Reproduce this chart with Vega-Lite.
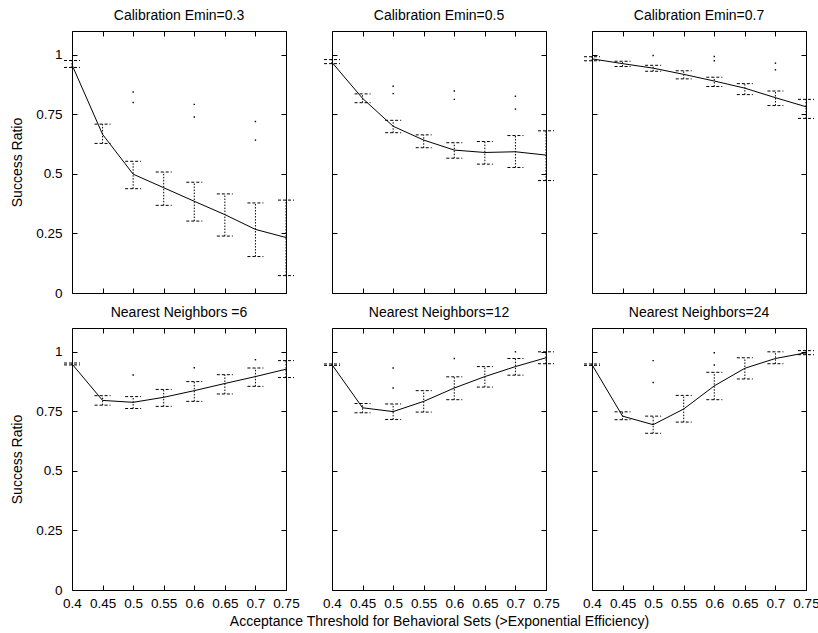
{
  "$schema": "https://vega.github.io/schema/vega-lite/v6.json",
  "background": "white",
  "padding": {"left": 10, "top": 8, "right": 5, "bottom": 5},
  "bounds": "flush",
  "columns": 3,
  "spacing": {"row": 35, "column": 46},
  "datasets": {
    "bars": [
      {"p": "e3", "t": 0.4, "m": 0.958, "lo": 0.947, "hi": 0.976, "d1": null, "d2": null},
      {"p": "e3", "t": 0.45, "m": 0.666, "lo": 0.628, "hi": 0.709, "d1": null, "d2": null},
      {"p": "e3", "t": 0.5, "m": 0.499, "lo": 0.438, "hi": 0.553, "d1": 0.844, "d2": 0.8},
      {"p": "e3", "t": 0.55, "m": 0.442, "lo": 0.368, "hi": 0.508, "d1": null, "d2": null},
      {"p": "e3", "t": 0.6, "m": 0.385, "lo": 0.302, "hi": 0.465, "d1": 0.792, "d2": 0.739},
      {"p": "e3", "t": 0.65, "m": 0.329, "lo": 0.239, "hi": 0.416, "d1": null, "d2": null},
      {"p": "e3", "t": 0.7, "m": 0.267, "lo": 0.153, "hi": 0.378, "d1": 0.72, "d2": 0.642},
      {"p": "e3", "t": 0.75, "m": 0.233, "lo": 0.073, "hi": 0.39, "d1": null, "d2": null},
      {"p": "e5", "t": 0.4, "m": 0.968, "lo": 0.963, "hi": 0.98, "d1": null, "d2": null},
      {"p": "e5", "t": 0.45, "m": 0.817, "lo": 0.799, "hi": 0.836, "d1": null, "d2": null},
      {"p": "e5", "t": 0.5, "m": 0.7, "lo": 0.673, "hi": 0.725, "d1": 0.868, "d2": 0.837},
      {"p": "e5", "t": 0.55, "m": 0.642, "lo": 0.61, "hi": 0.664, "d1": null, "d2": null},
      {"p": "e5", "t": 0.6, "m": 0.6, "lo": 0.566, "hi": 0.631, "d1": 0.848, "d2": 0.813},
      {"p": "e5", "t": 0.65, "m": 0.59, "lo": 0.541, "hi": 0.636, "d1": null, "d2": null},
      {"p": "e5", "t": 0.7, "m": 0.593, "lo": 0.527, "hi": 0.661, "d1": 0.826, "d2": 0.772},
      {"p": "e5", "t": 0.75, "m": 0.579, "lo": 0.472, "hi": 0.681, "d1": null, "d2": null},
      {"p": "e7", "t": 0.4, "m": 0.983, "lo": 0.975, "hi": 0.992, "d1": null, "d2": null},
      {"p": "e7", "t": 0.45, "m": 0.963, "lo": 0.951, "hi": 0.973, "d1": null, "d2": null},
      {"p": "e7", "t": 0.5, "m": 0.944, "lo": 0.931, "hi": 0.956, "d1": 0.997, "d2": null},
      {"p": "e7", "t": 0.55, "m": 0.918, "lo": 0.899, "hi": 0.933, "d1": null, "d2": null},
      {"p": "e7", "t": 0.6, "m": 0.89, "lo": 0.867, "hi": 0.906, "d1": 0.993, "d2": 0.975},
      {"p": "e7", "t": 0.65, "m": 0.86, "lo": 0.833, "hi": 0.879, "d1": null, "d2": null},
      {"p": "e7", "t": 0.7, "m": 0.82, "lo": 0.787, "hi": 0.848, "d1": 0.965, "d2": 0.937},
      {"p": "e7", "t": 0.75, "m": 0.782, "lo": 0.733, "hi": 0.813, "d1": null, "d2": null},
      {"p": "n6", "t": 0.4, "m": 0.949, "lo": 0.945, "hi": 0.953, "d1": null, "d2": null},
      {"p": "n6", "t": 0.45, "m": 0.796, "lo": 0.776, "hi": 0.816, "d1": null, "d2": null},
      {"p": "n6", "t": 0.5, "m": 0.788, "lo": 0.762, "hi": 0.812, "d1": 0.903, "d2": null},
      {"p": "n6", "t": 0.55, "m": 0.809, "lo": 0.771, "hi": 0.842, "d1": null, "d2": null},
      {"p": "n6", "t": 0.6, "m": 0.837, "lo": 0.792, "hi": 0.875, "d1": 0.933, "d2": null},
      {"p": "n6", "t": 0.65, "m": 0.867, "lo": 0.823, "hi": 0.904, "d1": null, "d2": null},
      {"p": "n6", "t": 0.7, "m": 0.896, "lo": 0.855, "hi": 0.932, "d1": 0.967, "d2": null},
      {"p": "n6", "t": 0.75, "m": 0.927, "lo": 0.892, "hi": 0.963, "d1": null, "d2": null},
      {"p": "n12", "t": 0.4, "m": 0.946, "lo": 0.943, "hi": 0.949, "d1": null, "d2": null},
      {"p": "n12", "t": 0.45, "m": 0.765, "lo": 0.744, "hi": 0.783, "d1": null, "d2": null},
      {"p": "n12", "t": 0.5, "m": 0.749, "lo": 0.716, "hi": 0.781, "d1": 0.932, "d2": 0.848},
      {"p": "n12", "t": 0.55, "m": 0.792, "lo": 0.747, "hi": 0.837, "d1": null, "d2": null},
      {"p": "n12", "t": 0.6, "m": 0.848, "lo": 0.799, "hi": 0.895, "d1": 0.972, "d2": null},
      {"p": "n12", "t": 0.65, "m": 0.896, "lo": 0.852, "hi": 0.938, "d1": null, "d2": null},
      {"p": "n12", "t": 0.7, "m": 0.938, "lo": 0.902, "hi": 0.972, "d1": 1.0, "d2": null},
      {"p": "n12", "t": 0.75, "m": 0.975, "lo": 0.95, "hi": 1.0, "d1": null, "d2": null},
      {"p": "n24", "t": 0.4, "m": 0.946, "lo": 0.943, "hi": 0.949, "d1": null, "d2": null},
      {"p": "n24", "t": 0.45, "m": 0.73, "lo": 0.715, "hi": 0.748, "d1": null, "d2": null},
      {"p": "n24", "t": 0.5, "m": 0.694, "lo": 0.658, "hi": 0.73, "d1": 0.963, "d2": 0.871},
      {"p": "n24", "t": 0.55, "m": 0.76, "lo": 0.705, "hi": 0.817, "d1": null, "d2": null},
      {"p": "n24", "t": 0.6, "m": 0.857, "lo": 0.799, "hi": 0.914, "d1": 0.996, "d2": 0.945},
      {"p": "n24", "t": 0.65, "m": 0.931, "lo": 0.886, "hi": 0.975, "d1": null, "d2": null},
      {"p": "n24", "t": 0.7, "m": 0.972, "lo": 0.95, "hi": 1.0, "d1": null, "d2": null},
      {"p": "n24", "t": 0.75, "m": 0.996, "lo": 0.988, "hi": 1.005, "d1": null, "d2": null}
    ]
  },
  "data": {"name": "bars"},
  "config": {
    "font": "Liberation Sans",
    "view": {"stroke": "black", "strokeWidth": 1},
    "axis": {"domain": false, "grid": false, "tickColor": "black", "tickSize": -5, "tickWidth": 1, "labelFont": "Liberation Sans", "labelFontSize": 13.5, "labelColor": "black", "labelOverlap": false, "labelFlush": false, "labelBound": false, "titleFont": "Liberation Sans", "titleFontSize": 14, "titleFontWeight": "normal", "titleColor": "black", "format": ".2~f"},
    "title": {"font": "Liberation Sans", "fontSize": 14, "fontWeight": "normal", "color": "black", "offset": 8}
  },
  "concat": [
    {
      "width": 214, "height": 262,
      "title": "Calibration Emin=0.3",
      "transform": [{"filter": "datum.p === 'e3'"}],
      "layer": [
        {"mark": {"type": "rule", "color": "black", "strokeDash": [1.5, 1.5]},
         "encoding": {
           "x": {"field": "t", "type": "quantitative", "scale": {"domain": [0.4, 0.75], "nice": false, "zero": false}, "axis": {"orient": "bottom", "labels": false, "title": null, "values": [0.4, 0.45, 0.5, 0.55, 0.6, 0.65, 0.7, 0.75]}},
           "y": {"field": "lo", "type": "quantitative", "scale": {"domain": [0, 1.1], "nice": false, "zero": false}, "axis": {"orient": "left", "title": "Success Ratio", "titlePadding": 11, "labelPadding": 15, "values": [0, 0.25, 0.5, 0.75, 1], "format": ".2~f"}},
           "y2": {"field": "hi"}}},
        {"mark": {"type": "rule", "color": "black", "strokeDash": [3, 2], "xOffset": -8, "x2Offset": 8},
         "encoding": {"x": {"field": "t", "type": "quantitative", "axis": null}, "x2": {"field": "t"}, "y": {"field": "lo", "type": "quantitative", "axis": null}}},
        {"mark": {"type": "rule", "color": "black", "strokeDash": [3, 2], "xOffset": -8, "x2Offset": 8},
         "encoding": {"x": {"field": "t", "type": "quantitative", "axis": null}, "x2": {"field": "t"}, "y": {"field": "hi", "type": "quantitative", "axis": null}}},
        {"mark": {"type": "point", "shape": "square", "filled": true, "size": 2, "color": "black", "opacity": 1},
         "encoding": {"x": {"field": "t", "type": "quantitative", "axis": null}, "y": {"field": "d1", "type": "quantitative", "axis": null}}},
        {"mark": {"type": "point", "shape": "square", "filled": true, "size": 2, "color": "black", "opacity": 1},
         "encoding": {"x": {"field": "t", "type": "quantitative", "axis": null}, "y": {"field": "d2", "type": "quantitative", "axis": null}}},
        {"mark": {"type": "line", "color": "black", "strokeWidth": 1},
         "encoding": {
           "x": {"field": "t", "type": "quantitative", "axis": {"orient": "top", "labels": false, "title": null, "values": [0.4, 0.45, 0.5, 0.55, 0.6, 0.65, 0.7, 0.75]}},
           "y": {"field": "m", "type": "quantitative", "axis": {"orient": "right", "labels": false, "title": null, "values": [0, 0.25, 0.5, 0.75, 1]}}}}
      ],
      "resolve": {"axis": {"x": "independent", "y": "independent"}}
    },
    {
      "width": 214, "height": 262,
      "title": "Calibration Emin=0.5",
      "transform": [{"filter": "datum.p === 'e5'"}],
      "layer": [
        {"mark": {"type": "rule", "color": "black", "strokeDash": [1.5, 1.5]},
         "encoding": {
           "x": {"field": "t", "type": "quantitative", "scale": {"domain": [0.4, 0.75], "nice": false, "zero": false}, "axis": {"orient": "bottom", "labels": false, "title": null, "values": [0.4, 0.45, 0.5, 0.55, 0.6, 0.65, 0.7, 0.75]}},
           "y": {"field": "lo", "type": "quantitative", "scale": {"domain": [0, 1.1], "nice": false, "zero": false}, "axis": {"orient": "left", "labels": false, "title": null, "values": [0, 0.25, 0.5, 0.75, 1]}},
           "y2": {"field": "hi"}}},
        {"mark": {"type": "rule", "color": "black", "strokeDash": [3, 2], "xOffset": -8, "x2Offset": 8},
         "encoding": {"x": {"field": "t", "type": "quantitative", "axis": null}, "x2": {"field": "t"}, "y": {"field": "lo", "type": "quantitative", "axis": null}}},
        {"mark": {"type": "rule", "color": "black", "strokeDash": [3, 2], "xOffset": -8, "x2Offset": 8},
         "encoding": {"x": {"field": "t", "type": "quantitative", "axis": null}, "x2": {"field": "t"}, "y": {"field": "hi", "type": "quantitative", "axis": null}}},
        {"mark": {"type": "point", "shape": "square", "filled": true, "size": 2, "color": "black", "opacity": 1},
         "encoding": {"x": {"field": "t", "type": "quantitative", "axis": null}, "y": {"field": "d1", "type": "quantitative", "axis": null}}},
        {"mark": {"type": "point", "shape": "square", "filled": true, "size": 2, "color": "black", "opacity": 1},
         "encoding": {"x": {"field": "t", "type": "quantitative", "axis": null}, "y": {"field": "d2", "type": "quantitative", "axis": null}}},
        {"mark": {"type": "line", "color": "black", "strokeWidth": 1},
         "encoding": {
           "x": {"field": "t", "type": "quantitative", "axis": {"orient": "top", "labels": false, "title": null, "values": [0.4, 0.45, 0.5, 0.55, 0.6, 0.65, 0.7, 0.75]}},
           "y": {"field": "m", "type": "quantitative", "axis": {"orient": "right", "labels": false, "title": null, "values": [0, 0.25, 0.5, 0.75, 1]}}}}
      ],
      "resolve": {"axis": {"x": "independent", "y": "independent"}}
    },
    {
      "width": 214, "height": 262,
      "title": "Calibration Emin=0.7",
      "transform": [{"filter": "datum.p === 'e7'"}],
      "layer": [
        {"mark": {"type": "rule", "color": "black", "strokeDash": [1.5, 1.5]},
         "encoding": {
           "x": {"field": "t", "type": "quantitative", "scale": {"domain": [0.4, 0.75], "nice": false, "zero": false}, "axis": {"orient": "bottom", "labels": false, "title": null, "values": [0.4, 0.45, 0.5, 0.55, 0.6, 0.65, 0.7, 0.75]}},
           "y": {"field": "lo", "type": "quantitative", "scale": {"domain": [0, 1.1], "nice": false, "zero": false}, "axis": {"orient": "left", "labels": false, "title": null, "values": [0, 0.25, 0.5, 0.75, 1]}},
           "y2": {"field": "hi"}}},
        {"mark": {"type": "rule", "color": "black", "strokeDash": [3, 2], "xOffset": -8, "x2Offset": 8},
         "encoding": {"x": {"field": "t", "type": "quantitative", "axis": null}, "x2": {"field": "t"}, "y": {"field": "lo", "type": "quantitative", "axis": null}}},
        {"mark": {"type": "rule", "color": "black", "strokeDash": [3, 2], "xOffset": -8, "x2Offset": 8},
         "encoding": {"x": {"field": "t", "type": "quantitative", "axis": null}, "x2": {"field": "t"}, "y": {"field": "hi", "type": "quantitative", "axis": null}}},
        {"mark": {"type": "point", "shape": "square", "filled": true, "size": 2, "color": "black", "opacity": 1},
         "encoding": {"x": {"field": "t", "type": "quantitative", "axis": null}, "y": {"field": "d1", "type": "quantitative", "axis": null}}},
        {"mark": {"type": "point", "shape": "square", "filled": true, "size": 2, "color": "black", "opacity": 1},
         "encoding": {"x": {"field": "t", "type": "quantitative", "axis": null}, "y": {"field": "d2", "type": "quantitative", "axis": null}}},
        {"mark": {"type": "line", "color": "black", "strokeWidth": 1},
         "encoding": {
           "x": {"field": "t", "type": "quantitative", "axis": {"orient": "top", "labels": false, "title": null, "values": [0.4, 0.45, 0.5, 0.55, 0.6, 0.65, 0.7, 0.75]}},
           "y": {"field": "m", "type": "quantitative", "axis": {"orient": "right", "labels": false, "title": null, "values": [0, 0.25, 0.5, 0.75, 1]}}}}
      ],
      "resolve": {"axis": {"x": "independent", "y": "independent"}}
    },
    {
      "width": 214, "height": 262,
      "title": "Nearest Neighbors =6",
      "transform": [{"filter": "datum.p === 'n6'"}],
      "layer": [
        {"mark": {"type": "rule", "color": "black", "strokeDash": [1.5, 1.5]},
         "encoding": {
           "x": {"field": "t", "type": "quantitative", "scale": {"domain": [0.4, 0.75], "nice": false, "zero": false}, "axis": {"orient": "bottom", "title": null, "labelPadding": 11, "values": [0.4, 0.45, 0.5, 0.55, 0.6, 0.65, 0.7, 0.75], "format": ".2~f"}},
           "y": {"field": "lo", "type": "quantitative", "scale": {"domain": [0, 1.1], "nice": false, "zero": false}, "axis": {"orient": "left", "title": "Success Ratio", "titlePadding": 11, "labelPadding": 15, "values": [0, 0.25, 0.5, 0.75, 1], "format": ".2~f"}},
           "y2": {"field": "hi"}}},
        {"mark": {"type": "rule", "color": "black", "strokeDash": [3, 2], "xOffset": -8, "x2Offset": 8},
         "encoding": {"x": {"field": "t", "type": "quantitative", "axis": null}, "x2": {"field": "t"}, "y": {"field": "lo", "type": "quantitative", "axis": null}}},
        {"mark": {"type": "rule", "color": "black", "strokeDash": [3, 2], "xOffset": -8, "x2Offset": 8},
         "encoding": {"x": {"field": "t", "type": "quantitative", "axis": null}, "x2": {"field": "t"}, "y": {"field": "hi", "type": "quantitative", "axis": null}}},
        {"mark": {"type": "point", "shape": "square", "filled": true, "size": 2, "color": "black", "opacity": 1},
         "encoding": {"x": {"field": "t", "type": "quantitative", "axis": null}, "y": {"field": "d1", "type": "quantitative", "axis": null}}},
        {"mark": {"type": "point", "shape": "square", "filled": true, "size": 2, "color": "black", "opacity": 1},
         "encoding": {"x": {"field": "t", "type": "quantitative", "axis": null}, "y": {"field": "d2", "type": "quantitative", "axis": null}}},
        {"mark": {"type": "line", "color": "black", "strokeWidth": 1},
         "encoding": {
           "x": {"field": "t", "type": "quantitative", "axis": {"orient": "top", "labels": false, "title": null, "values": [0.4, 0.45, 0.5, 0.55, 0.6, 0.65, 0.7, 0.75]}},
           "y": {"field": "m", "type": "quantitative", "axis": {"orient": "right", "labels": false, "title": null, "values": [0, 0.25, 0.5, 0.75, 1]}}}}
      ],
      "resolve": {"axis": {"x": "independent", "y": "independent"}}
    },
    {
      "width": 214, "height": 262,
      "title": "Nearest Neighbors=12",
      "transform": [{"filter": "datum.p === 'n12'"}],
      "layer": [
        {"mark": {"type": "rule", "color": "black", "strokeDash": [1.5, 1.5]},
         "encoding": {
           "x": {"field": "t", "type": "quantitative", "scale": {"domain": [0.4, 0.75], "nice": false, "zero": false}, "axis": {"orient": "bottom", "title": "Acceptance Threshold for Behavioral Sets (>Exponential Efficiency)", "titlePadding": 5, "labelPadding": 11, "values": [0.4, 0.45, 0.5, 0.55, 0.6, 0.65, 0.7, 0.75], "format": ".2~f"}},
           "y": {"field": "lo", "type": "quantitative", "scale": {"domain": [0, 1.1], "nice": false, "zero": false}, "axis": {"orient": "left", "labels": false, "title": null, "values": [0, 0.25, 0.5, 0.75, 1]}},
           "y2": {"field": "hi"}}},
        {"mark": {"type": "rule", "color": "black", "strokeDash": [3, 2], "xOffset": -8, "x2Offset": 8},
         "encoding": {"x": {"field": "t", "type": "quantitative", "axis": null}, "x2": {"field": "t"}, "y": {"field": "lo", "type": "quantitative", "axis": null}}},
        {"mark": {"type": "rule", "color": "black", "strokeDash": [3, 2], "xOffset": -8, "x2Offset": 8},
         "encoding": {"x": {"field": "t", "type": "quantitative", "axis": null}, "x2": {"field": "t"}, "y": {"field": "hi", "type": "quantitative", "axis": null}}},
        {"mark": {"type": "point", "shape": "square", "filled": true, "size": 2, "color": "black", "opacity": 1},
         "encoding": {"x": {"field": "t", "type": "quantitative", "axis": null}, "y": {"field": "d1", "type": "quantitative", "axis": null}}},
        {"mark": {"type": "point", "shape": "square", "filled": true, "size": 2, "color": "black", "opacity": 1},
         "encoding": {"x": {"field": "t", "type": "quantitative", "axis": null}, "y": {"field": "d2", "type": "quantitative", "axis": null}}},
        {"mark": {"type": "line", "color": "black", "strokeWidth": 1},
         "encoding": {
           "x": {"field": "t", "type": "quantitative", "axis": {"orient": "top", "labels": false, "title": null, "values": [0.4, 0.45, 0.5, 0.55, 0.6, 0.65, 0.7, 0.75]}},
           "y": {"field": "m", "type": "quantitative", "axis": {"orient": "right", "labels": false, "title": null, "values": [0, 0.25, 0.5, 0.75, 1]}}}}
      ],
      "resolve": {"axis": {"x": "independent", "y": "independent"}}
    },
    {
      "width": 214, "height": 262,
      "title": "Nearest Neighbors=24",
      "transform": [{"filter": "datum.p === 'n24'"}],
      "layer": [
        {"mark": {"type": "rule", "color": "black", "strokeDash": [1.5, 1.5]},
         "encoding": {
           "x": {"field": "t", "type": "quantitative", "scale": {"domain": [0.4, 0.75], "nice": false, "zero": false}, "axis": {"orient": "bottom", "title": null, "labelPadding": 11, "values": [0.4, 0.45, 0.5, 0.55, 0.6, 0.65, 0.7, 0.75], "format": ".2~f"}},
           "y": {"field": "lo", "type": "quantitative", "scale": {"domain": [0, 1.1], "nice": false, "zero": false}, "axis": {"orient": "left", "labels": false, "title": null, "values": [0, 0.25, 0.5, 0.75, 1]}},
           "y2": {"field": "hi"}}},
        {"mark": {"type": "rule", "color": "black", "strokeDash": [3, 2], "xOffset": -8, "x2Offset": 8},
         "encoding": {"x": {"field": "t", "type": "quantitative", "axis": null}, "x2": {"field": "t"}, "y": {"field": "lo", "type": "quantitative", "axis": null}}},
        {"mark": {"type": "rule", "color": "black", "strokeDash": [3, 2], "xOffset": -8, "x2Offset": 8},
         "encoding": {"x": {"field": "t", "type": "quantitative", "axis": null}, "x2": {"field": "t"}, "y": {"field": "hi", "type": "quantitative", "axis": null}}},
        {"mark": {"type": "point", "shape": "square", "filled": true, "size": 2, "color": "black", "opacity": 1},
         "encoding": {"x": {"field": "t", "type": "quantitative", "axis": null}, "y": {"field": "d1", "type": "quantitative", "axis": null}}},
        {"mark": {"type": "point", "shape": "square", "filled": true, "size": 2, "color": "black", "opacity": 1},
         "encoding": {"x": {"field": "t", "type": "quantitative", "axis": null}, "y": {"field": "d2", "type": "quantitative", "axis": null}}},
        {"mark": {"type": "line", "color": "black", "strokeWidth": 1},
         "encoding": {
           "x": {"field": "t", "type": "quantitative", "axis": {"orient": "top", "labels": false, "title": null, "values": [0.4, 0.45, 0.5, 0.55, 0.6, 0.65, 0.7, 0.75]}},
           "y": {"field": "m", "type": "quantitative", "axis": {"orient": "right", "labels": false, "title": null, "values": [0, 0.25, 0.5, 0.75, 1]}}}}
      ],
      "resolve": {"axis": {"x": "independent", "y": "independent"}}
    }
  ]
}
